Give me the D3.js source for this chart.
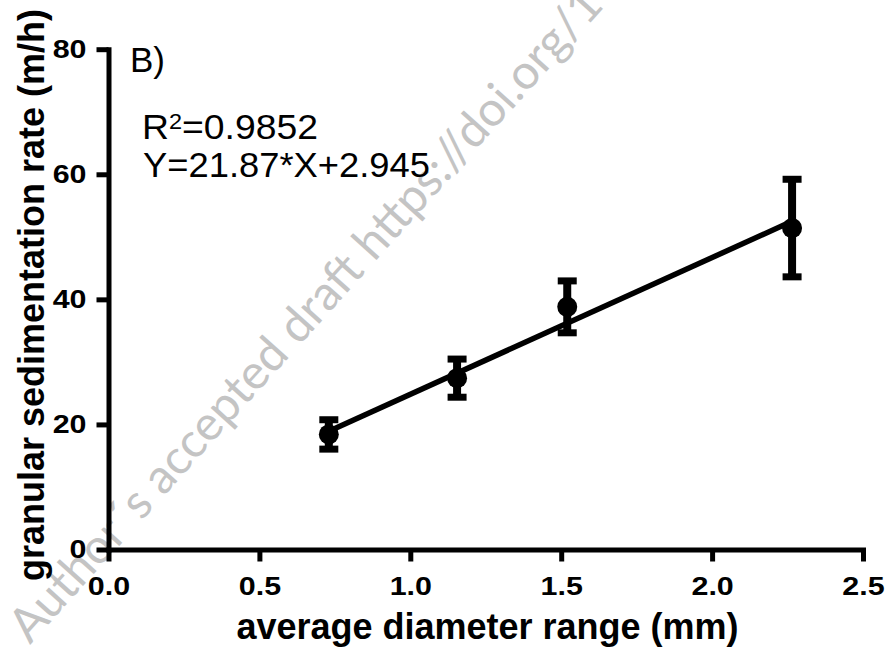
<!DOCTYPE html>
<html>
<head>
<meta charset="utf-8">
<script src="https://cdn.jsdelivr.net/npm/d3@7"></script>
<style>
body { margin: 0; background: #fff; }
svg text { font-family: "Liberation Sans", Arial, sans-serif; }
</style>
</head>
<body>
<div id="chart"></div>
<script>
// average diameter (mm), sedimentation rate (m/h), error bar half length
var diameters = [0.73, 1.155, 1.52, 2.265];
var rates = [18.4, 27.4, 38.8, 51.4];
var errors = [2.35, 3.05, 4.15, 7.8];

var xTicks = [0, 0.5, 1.0, 1.5, 2.0, 2.5];
var yTicks = [0, 20, 40, 60, 80];

// linear fit printed on the figure
var slope = 21.87;
var intercept = 2.945;
var r2Text = "0.9852";
var fitText = "Y=21.87*X+2.945";

var w = 887;
var h = 654;
var plotLeft = 108.5, plotRight = 863, plotTop = 49.2, plotBottom = 549.5;
var tickLen = 12;
var stretch = 1.17;   // tick labels are set a bit wide in the original

var data = diameters.map(function(d, i) {
    return { x: d, y: rates[i], err: errors[i] };
});

var xscale = d3.scaleLinear()
                .domain([0, 2.5])
                .range([plotLeft, plotRight]);

var yscale = d3.scaleLinear()
                .domain([0, 80])
                .range([plotBottom, plotTop]);

var xaxis = d3.axisBottom(xscale)
                .tickValues(xTicks)
                .tickFormat(d3.format(".1f"))
                .tickSizeInner(tickLen)
                .tickSizeOuter(0)
                .tickPadding(15);

var yaxis = d3.axisLeft(yscale)
                .tickValues(yTicks)
                .tickSizeInner(tickLen)
                .tickSizeOuter(0)
                .tickPadding(10);

var svg = d3.select("#chart")
            .append("svg")
            .attr("width", w)
            .attr("height", h);

// watermark of the source document
svg.append("text")
    .attr("transform", "translate(30,645) rotate(-48)")
    .style("font-family", "Lato, 'Open Sans', sans-serif")
    .style("font-size", "48px")
    .attr("fill", "#c4c4c4")
    .text("Author\u00B4s accepted draft https://doi.org/1");

svg.append("g")
    .attr("class", "x axis")
    .attr("transform", "translate(0," + plotBottom + ")")
    .call(xaxis);

svg.append("g")
    .attr("class", "y axis")
    .attr("transform", "translate(" + plotLeft + ",0)")
    .call(yaxis);

svg.selectAll(".axis path.domain")
    .attr("stroke", "#000")
    .attr("stroke-width", 5)
    .attr("stroke-linecap", "square");

svg.selectAll(".axis .tick line")
    .attr("stroke", "#000")
    .attr("stroke-width", 5);

svg.selectAll(".axis .tick text")
    .attr("fill", "#000")
    .style("font-size", "26px")
    .style("font-weight", "bold");

// widen the labels, keeping them centred / right aligned on the ticks
svg.selectAll(".x.axis .tick text")
    .each(function() {
        var len = this.getComputedTextLength() * stretch;
        d3.select(this)
            .attr("text-anchor", "start")
            .attr("x", -len / 2)
            .attr("textLength", len)
            .attr("lengthAdjust", "spacingAndGlyphs");
    });

svg.selectAll(".y.axis .tick text")
    .each(function() {
        var len = this.getComputedTextLength() * stretch;
        d3.select(this)
            .attr("text-anchor", "start")
            .attr("x", -(tickLen + 10) - len)
            .attr("textLength", len)
            .attr("lengthAdjust", "spacingAndGlyphs");
    });

// fitted line over the measured range
var xmin = d3.min(diameters), xmax = d3.max(diameters);
svg.append("line")
    .attr("x1", xscale(xmin))
    .attr("y1", yscale(slope * xmin + intercept))
    .attr("x2", xscale(xmax))
    .attr("y2", yscale(slope * xmax + intercept))
    .attr("stroke", "#000")
    .attr("stroke-width", 5.5);

var bars = svg.append("g")
    .attr("id", "error_bars")
    .selectAll("g")
    .data(data)
    .enter()
    .append("g");

bars.append("line")
    .attr("x1", function(d) { return xscale(d.x); })
    .attr("x2", function(d) { return xscale(d.x); })
    .attr("y1", function(d) { return yscale(d.y + d.err); })
    .attr("y2", function(d) { return yscale(d.y - d.err); })
    .attr("stroke", "#000")
    .attr("stroke-width", 8);

bars.selectAll(".cap")
    .data(function(d) { return [[d.x, d.y + d.err], [d.x, d.y - d.err]]; })
    .enter()
    .append("line")
    .attr("class", "cap")
    .attr("x1", function(c) { return xscale(c[0]) - 9.5; })
    .attr("x2", function(c) { return xscale(c[0]) + 9.5; })
    .attr("y1", function(c) { return yscale(c[1]); })
    .attr("y2", function(c) { return yscale(c[1]); })
    .attr("stroke", "#000")
    .attr("stroke-width", 7);

svg.append("g")
    .attr("id", "points")
    .selectAll("circle")
    .data(data)
    .enter()
    .append("circle")
    .attr("cx", function(d) { return xscale(d.x); })
    .attr("cy", function(d) { return yscale(d.y); })
    .attr("r", 10)
    .attr("fill", "#000");

// axis titles
svg.append("text")
    .attr("x", 487.5)
    .attr("y", 638.5)
    .attr("text-anchor", "middle")
    .style("font-size", "36px")
    .style("font-weight", "bold")
    .text("average diameter range (mm)");

svg.append("text")
    .attr("transform", "translate(44,295) rotate(-90)")
    .attr("text-anchor", "middle")
    .style("font-size", "36px")
    .style("font-weight", "bold")
    .text("granular sedimentation rate (m/h)");

// panel letter and fit annotation
svg.append("text")
    .attr("x", 130)
    .attr("y", 71.7)
    .style("font-size", "35px")
    .text("B)");

var r2 = svg.append("text")
    .attr("x", 142)
    .attr("y", 139.3)
    .attr("textLength", 176)
    .attr("lengthAdjust", "spacingAndGlyphs")
    .style("font-size", "35px");
r2.append("tspan").text("R");
r2.append("tspan")
    .attr("dy", -10)
    .style("font-size", "22px")
    .text("2");
r2.append("tspan")
    .attr("dy", 10)
    .text("=" + r2Text);

svg.append("text")
    .attr("x", 143)
    .attr("y", 177)
    .attr("textLength", 287)
    .attr("lengthAdjust", "spacingAndGlyphs")
    .style("font-size", "35px")
    .text(fitText);
</script>
</body>
</html>
